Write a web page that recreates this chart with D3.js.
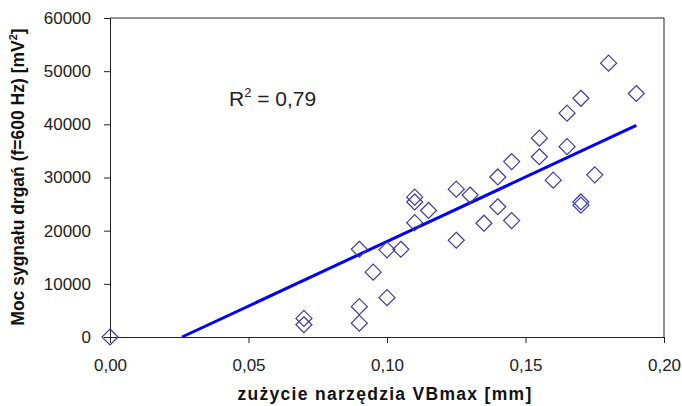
<!DOCTYPE html>
<html>
<head>
<meta charset="utf-8">
<script src="https://cdn.jsdelivr.net/npm/d3@7"></script>
<style>
  body { margin: 0; background: #fff; }
  svg { display: block; font-family: "Liberation Sans", Arial, sans-serif; }
  .tick text { font-size: 17px; fill: #222; }
  .tick line, .domain { stroke: #222; }
</style>
</head>
<body>
<script>
// tool wear [mm] vs vibration signal power [mV^2]
const wear = [0, 0.07, 0.07, 0.09, 0.09, 0.09, 0.095, 0.10, 0.10, 0.105,
    0.11, 0.11, 0.11, 0.115, 0.125, 0.125, 0.13, 0.135, 0.14, 0.14,
    0.145, 0.145, 0.155, 0.155, 0.16, 0.165, 0.165, 0.17, 0.17, 0.17,
    0.175, 0.18, 0.19];
const power = [0, 3500, 2300, 16500, 5700, 2600, 12200, 16400, 7400, 16500,
    26300, 25400, 21500, 23800, 27800, 18200, 26700, 21400, 30100, 24500,
    33000, 21900, 37400, 33900, 29500, 42100, 35800, 44900, 25400, 24800,
    30500, 51500, 45800];
// linear trendline end points
const trendX = [0.026, 0.19];
const trendY = [0, 39800];
const xTicks = [0, 0.05, 0.10, 0.15, 0.20];
const yTicks = [0, 10000, 20000, 30000, 40000, 50000, 60000];

const W = 682, H = 406;
const mLeft = 110, mRight = 664, mTop = 18, mBottom = 337;

const svg = d3.select("body").append("svg")
    .attr("width", W)
    .attr("height", H);

let x = d3.scaleLinear().domain([0, 0.2]).range([mLeft, mRight]);
let y = d3.scaleLinear().domain([0, 60000]).range([mBottom, mTop]);

// frame (top and right)
svg.append("path")
    .attr("d", `M${mLeft},${mTop}H${mRight}V${mBottom}`)
    .attr("fill", "none")
    .attr("stroke", "#222");

svg.append("g")
    .attr("transform", `translate(0,${mBottom})`)
    .call(d3.axisBottom(x).tickValues(xTicks).tickSizeOuter(0)
        .tickSize(6).tickPadding(16)
        .tickFormat(d => d3.format(".2f")(d).replace(".", ",")));

svg.append("g")
    .attr("transform", `translate(${mLeft},0)`)
    .call(d3.axisLeft(y).tickValues(yTicks).tickSizeOuter(0)
        .tickSize(6).tickPadding(13)
        .tickFormat(d3.format("d")));

svg.selectAll(".tick text").attr("font-family", "Liberation Sans, Arial, sans-serif");

// trendline
svg.append("line")
    .attr("x1", x(trendX[0])).attr("y1", y(trendY[0]))
    .attr("x2", x(trendX[1])).attr("y2", y(trendY[1]))
    .attr("stroke", "#0000ff")
    .attr("stroke-width", 3);

// diamond markers
const s = 8;
svg.append("g")
    .selectAll("path")
    .data(wear.map((w, i) => ({ w: w, p: power[i] })))
    .enter()
    .append("path")
    .attr("d", d => {
        let cx = x(d.w), cy = y(d.p);
        return `M${cx},${cy - s}L${cx + s},${cy}L${cx},${cy + s}L${cx - s},${cy}Z`;
    })
    .attr("fill", "none")
    .attr("stroke", "#3c3ca0")
    .attr("stroke-width", 1.2);

// R^2 annotation
let r2 = svg.append("text")
    .attr("x", 229).attr("y", 106)
    .attr("font-size", 21)
    .attr("fill", "#222");
r2.append("tspan").text("R");
r2.append("tspan").attr("font-size", 13).attr("dy", -9).text("2");
r2.append("tspan").attr("dy", 9).text(" = 0,79");

// axis titles
svg.append("text")
    .attr("x", 385).attr("y", 400)
    .attr("text-anchor", "middle")
    .attr("font-size", 17.5)
    .attr("font-weight", "bold")
    .attr("letter-spacing", 1.3)
    .attr("fill", "#111")
    .text("zużycie narzędzia VBmax [mm]");

let yl = svg.append("text")
    .attr("transform", "translate(24,177) rotate(-90)")
    .attr("text-anchor", "middle")
    .attr("font-size", 17.5)
    .attr("font-weight", "bold")
    .attr("fill", "#111");
yl.append("tspan").text("Moc sygnału drgań (f=600 Hz) [mV");
yl.append("tspan").attr("font-size", 11).attr("dy", -7).text("2");
yl.append("tspan").attr("dy", 7).text("]");
</script>
</body>
</html>
